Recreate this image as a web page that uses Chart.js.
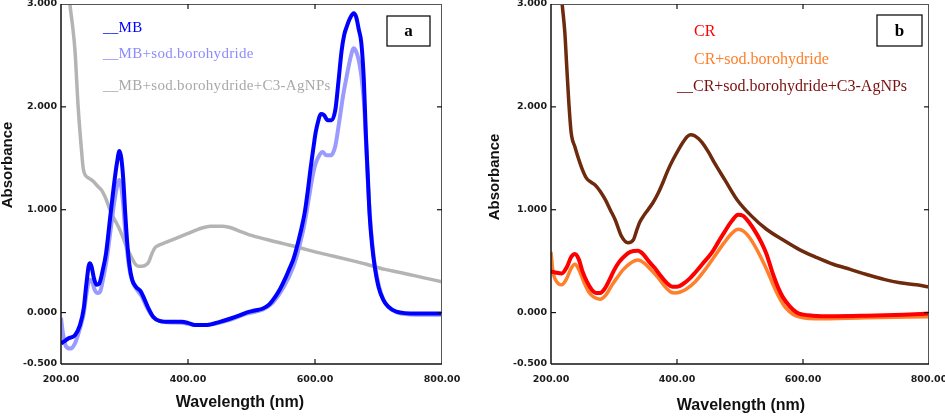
<!DOCTYPE html>
<html>
<head>
<meta charset="utf-8">
<script src="https://cdn.jsdelivr.net/npm/chart.js@4.4.1/dist/chart.umd.min.js"></script>
<style>
html, body { margin: 0; padding: 0; background: #fff; }
#wrap { position: relative; width: 945px; height: 416px; }
canvas { position: absolute; top: 0; }
#chartA { left: 0; }
#chartB { left: 470px; }
</style>
</head>
<body>
<div id="wrap">
  <canvas id="chartA" width="470" height="416"></canvas>
  <canvas id="chartB" width="475" height="416"></canvas>
</div>
<script>
// axis ticks
const xTicks = [200, 400, 600, 800];
const yTicks = [-0.5, 0, 1, 2, 3];

// panel a: MB
const mbWl = [200,205,212,222,230,236,240,245,248,252,256,260,266,271,277,283,288,292,295,298,301,304,308,312,318,325,330,337,345,355,370,390,400,411,430,450,466,480,492,505,518,528,537,545,553,560,566,572,578,584,589,593,597,601,605,609,614,620,626,632,637,642,646,650,655,661,665,669,673,677,680,683,686,690,694,700,707,715,728,760,800];
const mbAbs = [-0.30,-0.28,-0.25,-0.22,-0.12,0.05,0.28,0.48,0.45,0.33,0.27,0.28,0.42,0.58,0.90,1.22,1.45,1.57,1.50,1.30,0.98,0.70,0.45,0.32,0.25,0.21,0.15,0.05,-0.04,-0.08,-0.09,-0.09,-0.10,-0.12,-0.12,-0.09,-0.06,-0.03,0.00,0.02,0.04,0.08,0.15,0.23,0.33,0.43,0.52,0.65,0.80,0.98,1.20,1.40,1.58,1.75,1.86,1.93,1.92,1.87,1.87,1.97,2.25,2.55,2.70,2.78,2.86,2.91,2.87,2.75,2.62,2.25,1.75,1.35,0.95,0.65,0.45,0.25,0.13,0.06,0.01,-0.01,-0.01];

const mbNaWl = [200,203,208,215,222,230,236,240,245,249,253,258,262,267,272,278,284,289,292,295,298,301,305,309,314,320,327,333,340,348,360,390,411,430,466,492,518,534,550,566,576,584,590,596,601,606,612,618,625,632,638,644,650,656,661,664,669,673,677,680,683,687,691,695,701,708,716,730,760,800];
const mbNaAbs = [-0.05,-0.20,-0.33,-0.35,-0.30,-0.15,0.00,0.18,0.32,0.30,0.22,0.19,0.21,0.35,0.52,0.80,1.08,1.25,1.29,1.22,1.05,0.80,0.55,0.38,0.28,0.22,0.16,0.08,0.00,-0.06,-0.09,-0.10,-0.12,-0.12,-0.07,-0.01,0.03,0.10,0.24,0.45,0.66,0.88,1.10,1.32,1.45,1.52,1.56,1.53,1.53,1.62,1.85,2.10,2.30,2.48,2.57,2.55,2.45,2.30,2.05,1.70,1.30,0.90,0.62,0.43,0.25,0.12,0.05,0.00,-0.02,-0.02];

const mbAgWl = [200,208,214,218,222,227,232,235,239,243,250,259,264,269,273,277,283,290,297,303,310,316,322,327,333,338,343,348,356,364,380,400,421,435,455,470,482,500,524,550,576,600,628,655,681,710,734,770,800];
const mbAgAbs = [3.9,3.45,3.0,2.8,2.55,2.0,1.6,1.40,1.33,1.31,1.28,1.22,1.19,1.13,1.07,1.00,0.92,0.84,0.74,0.64,0.55,0.48,0.45,0.45,0.46,0.49,0.57,0.63,0.66,0.68,0.72,0.77,0.82,0.84,0.84,0.82,0.79,0.75,0.71,0.67,0.63,0.59,0.55,0.51,0.47,0.42,0.39,0.34,0.30];

// panel b: CR
const crWl = [200,207,217,225,232,238,244,250,257,265,272,278,285,293,300,308,317,326,338,346,355,365,375,385,393,400,410,420,429,440,455,465,476,487,497,505,514,526,534,542,552,560,568,579,590,600,615,650,700,760,800];
const crAbs = [0.40,0.39,0.38,0.44,0.54,0.57,0.52,0.40,0.30,0.22,0.19,0.19,0.23,0.32,0.41,0.49,0.55,0.59,0.60,0.57,0.50,0.43,0.35,0.28,0.25,0.25,0.28,0.33,0.39,0.47,0.58,0.68,0.79,0.89,0.95,0.94,0.88,0.77,0.68,0.57,0.38,0.25,0.15,0.06,0.00,-0.02,-0.03,-0.035,-0.03,-0.02,-0.01];

const crNaWl = [200,203,207,212,217,224,232,238,244,252,260,268,278,287,296,305,315,326,338,348,358,370,380,390,397,405,415,429,445,460,475,487,497,506,515,527,540,552,562,572,585,600,620,700,800];
const crNaAbs = [0.59,0.40,0.32,0.28,0.27,0.32,0.43,0.47,0.42,0.30,0.20,0.15,0.13,0.17,0.26,0.34,0.42,0.48,0.51,0.48,0.42,0.34,0.26,0.20,0.19,0.20,0.23,0.30,0.42,0.55,0.68,0.77,0.81,0.79,0.73,0.61,0.45,0.28,0.15,0.05,-0.02,-0.05,-0.06,-0.05,-0.04];

const crAgWl = [200,212,217,222,225,228,232,238,248,256,263,270,278,286,294,302,312,322,331,336,341,348,354,362,370,378,386,394,402,410,416,421,428,439,450,460,476,495,518,542,570,595,620,648,675,701,730,754,780,800];
const crAgAbs = [4.6,3.5,3.05,2.72,2.39,2.07,1.75,1.61,1.42,1.31,1.27,1.24,1.18,1.10,1.00,0.90,0.74,0.68,0.71,0.80,0.88,0.95,1.00,1.07,1.16,1.27,1.39,1.49,1.58,1.66,1.71,1.73,1.72,1.66,1.56,1.45,1.29,1.10,0.94,0.81,0.70,0.61,0.54,0.47,0.42,0.37,0.32,0.29,0.27,0.25];

function pts(wl, abs) {
    return wl.map((w, i) => ({ x: w, y: abs[i] }));
}

function series(wl, abs, color, width) {
    return {
        data: pts(wl, abs),
        borderColor: color,
        borderWidth: width,
        pointRadius: 0,
        cubicInterpolationMode: 'monotone',
        clip: 0
    };
}

// frame, inner ticks, legend text, panel label, axis titles
function decor(p) {
    return {
        id: 'decor',
        afterDraw(chart) {
            const { ctx, chartArea: a, scales } = chart;
            const x = scales.x, y = scales.y;
            ctx.save();
            const line = (x1, y1, x2, y2) => { ctx.beginPath(); ctx.moveTo(x1, y1); ctx.lineTo(x2, y2); ctx.stroke(); };

            ctx.strokeStyle = '#555';
            ctx.lineWidth = 1;
            line(a.left, a.top + 0.5, a.right, a.top + 0.5);
            line(a.right - 0.5, a.top, a.right - 0.5, a.bottom);
            ctx.strokeStyle = '#111';
            ctx.lineWidth = 1.5;
            line(a.left, a.top, a.left, a.bottom);
            line(a.left, a.bottom, a.right, a.bottom);

            ctx.lineWidth = 1.2;
            [400, 600].forEach(v => {
                const px = x.getPixelForValue(v);
                line(px, a.bottom, px, a.bottom - 5);
                line(px, a.top, px, a.top + 5);
            });
            [0, 1, 2].forEach(v => {
                const py = y.getPixelForValue(v);
                line(a.left, py, a.left + 5, py);
                line(a.right, py, a.right - 5, py);
            });

            // legend lines of text
            ctx.font = p.legendFont;
            ctx.letterSpacing = p.spacing;
            ctx.textAlign = 'left';
            ctx.textBaseline = 'alphabetic';
            p.legend.forEach(l => {
                ctx.fillStyle = l.color;
                ctx.fillText(l.text, l.x, l.y);
            });
            ctx.letterSpacing = '0px';

            // panel label box
            ctx.strokeStyle = '#111';
            ctx.lineWidth = 1.3;
            ctx.strokeRect(p.box.x, p.box.y, p.box.w, p.box.h);
            ctx.fillStyle = '#000';
            ctx.font = 'bold 17px "Liberation Serif"';
            ctx.textAlign = 'center';
            ctx.textBaseline = 'middle';
            ctx.fillText(p.box.label, p.box.x + p.box.w / 2, p.box.y + p.box.h / 2 + 1);

            // axis titles
            ctx.fillStyle = '#111';
            ctx.font = 'bold 16px "Liberation Sans"';
            ctx.fillText('Wavelength (nm)', p.xTitle[0], p.xTitle[1]);
            ctx.font = 'bold 15px "Liberation Sans"';
            ctx.translate(p.yTitle[0], p.yTitle[1]);
            ctx.rotate(-Math.PI / 2);
            ctx.fillText('Absorbance', 0, 0);
            ctx.restore();
        }
    };
}

const tickFont = { family: 'DejaVu Sans', size: 9.5, weight: 'bold' };

function makePanel(canvas, datasets, axisWidth, rightPad, p) {
    return new Chart(canvas, {
        type: 'line',
        data: { datasets },
        options: {
            responsive: false,
            animation: false,
            devicePixelRatio: 1,
            layout: { padding: { left: 0, right: rightPad, top: 4, bottom: 0 } },
            scales: {
                x: {
                    type: 'linear',
                    min: 200,
                    max: 800,
                    grid: { display: false, drawTicks: false },
                    border: { display: false },
                    afterBuildTicks: s => { s.ticks = xTicks.map(v => ({ value: v })); },
                    afterFit: s => { s.height = 52; s.paddingLeft = 0; s.paddingRight = 0; },
                    ticks: {
                        autoSkip: false,
                        maxRotation: 0,
                        padding: 10,
                        color: '#1a1a1a',
                        font: tickFont,
                        callback: v => v.toFixed(2)
                    }
                },
                y: {
                    min: -0.5,
                    max: 3,
                    grid: { display: false, drawTicks: false },
                    border: { display: false },
                    afterBuildTicks: s => { s.ticks = yTicks.map(v => ({ value: v })); },
                    afterFit: s => { s.width = axisWidth; s.paddingTop = 0; s.paddingBottom = 0; },
                    ticks: {
                        padding: 4,
                        color: '#1a1a1a',
                        font: tickFont,
                        callback: v => v.toFixed(3)
                    }
                }
            },
            plugins: {
                legend: { display: false },
                tooltip: { enabled: false }
            }
        },
        plugins: [decor(p)]
    });
}

makePanel(document.getElementById('chartA'), [
    series(mbWl, mbAbs, '#0000ff', 4),
    series(mbNaWl, mbNaAbs, '#9a9aff', 4),
    series(mbAgWl, mbAgAbs, '#b4b4b4', 3.5)
], 61, 28, {
    legendFont: '15px "Liberation Serif"',
    spacing: '0.3px',
    legend: [
        { text: '__MB', color: '#0000ff', x: 103, y: 32 },
        { text: '__MB+sod.borohydride', color: '#8c8cff', x: 103, y: 58 },
        { text: '__MB+sod.borohydride+C3-AgNPs', color: '#a9a9a9', x: 103, y: 90 }
    ],
    box: { x: 387, y: 16, w: 43, h: 30, label: 'a' },
    xTitle: [240, 403],
    yTitle: [8, 165]
});

makePanel(document.getElementById('chartB'), [
    series(crWl, crAbs, '#ff0000', 4),
    series(crNaWl, crNaAbs, '#ff7f2a', 3.5),
    series(crAgWl, crAgAbs, '#6e2a0c', 3.5)
], 81, 16, {
    legendFont: '16px "Liberation Serif"',
    spacing: '0px',
    legend: [
        { text: 'CR', color: '#ff0000', x: 224, y: 36 },
        { text: 'CR+sod.borohydride', color: '#ff7f2a', x: 224, y: 64 },
        { text: '__CR+sod.borohydride+C3-AgNPs', color: '#7b1010', x: 207, y: 91 }
    ],
    box: { x: 407, y: 15, w: 45, h: 31, label: 'b' },
    xTitle: [271, 406],
    yTitle: [25, 177]
});
</script>
</body>
</html>
